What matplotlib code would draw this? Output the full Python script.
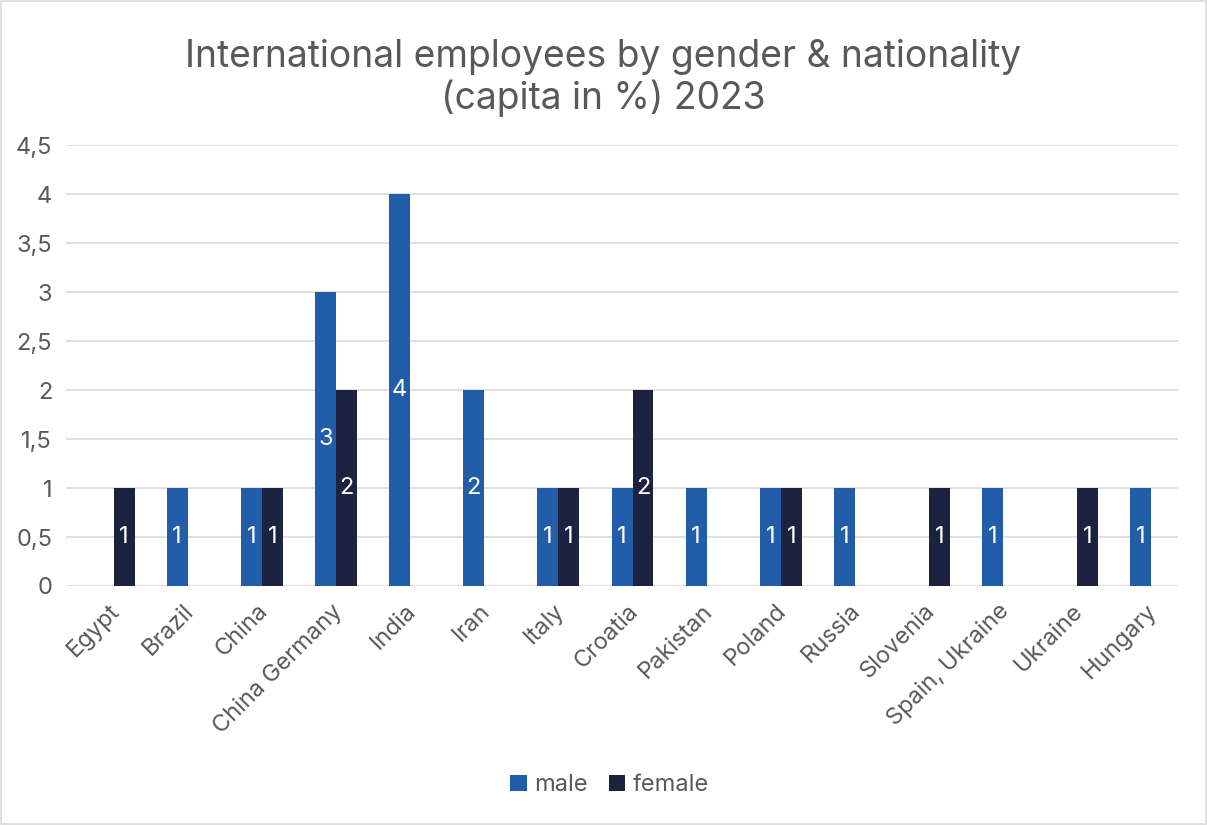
import matplotlib.pyplot as plt
import numpy as np

plt.rcParams['font.family'] = ['Inter', 'DejaVu Sans']

countries = ["Egypt", "Brazil", "China", "China Germany", "India", "Iran", "Italy",
             "Croatia", "Pakistan", "Poland", "Russia", "Slovenia", "Spain, Ukraine",
             "Ukraine", "Hungary"]
male = [None, 1, 1, 3, 4, 2, 1, 1, 1, 1, 1, None, 1, None, 1]
female = [1, None, 1, 2, None, None, 1, 2, None, 1, None, 1, None, 1, None]

male_color = "#215DA8"
female_color = "#1B2340"
text_color = "#595959"

fig = plt.figure(figsize=(12.07, 8.25), dpi=100)
ax = fig.add_axes([0.0547, 0.2897, 0.9213, 0.5345])

x = np.arange(len(countries))
w = 0.283

def draw(vals, offset, color, label):
    xs = [xi + offset for xi, v in zip(x, vals) if v is not None]
    ys = [v for v in vals if v is not None]
    bars = ax.bar(xs, ys, width=w, color=color, label=label, zorder=3)
    for b, v in zip(bars, ys):
        ax.text(b.get_x() + b.get_width() / 2, v / 2, str(v), ha='center', va='center',
                color='white', fontsize=17, zorder=4)

draw(male, 0, male_color, "male")
draw(female, w, female_color, "female")

ax.set_xlim(-0.5, len(countries) - 0.5)
ax.set_ylim(0, 4.5)
yt = np.arange(0, 4.51, 0.5)
ax.set_yticks(yt)
ax.set_yticklabels([("%g" % t).replace(".", ",") for t in yt], color=text_color, fontsize=17)
ax.set_xticks(x + 0.07)
ax.set_xticklabels(countries, rotation=45, ha='right', rotation_mode='anchor',
                   color=text_color, fontsize=17)
ax.tick_params(axis='y', length=0, pad=10)
ax.tick_params(axis='x', length=0, pad=10)
ax.grid(axis='y', color='#D9D9D9', linewidth=1.2, zorder=0)
for s in ax.spines.values():
    s.set_visible(False)

fig.text(0.5, 0.905, "International employees by gender & nationality\n(capita in %) 2023",
         ha='center', va='center', fontsize=26.8, color=text_color, linespacing=1.15)

fig.legend(loc='center', bbox_to_anchor=(0.505, 0.048), ncol=2, frameon=False,
           fontsize=17, handlelength=0.7, handleheight=0.7, handletextpad=0.3,
           columnspacing=0.9, labelcolor=text_color)

fig.patches.append(plt.Rectangle((0.001, 0.001), 0.998, 0.998, transform=fig.transFigure,
                                 fill=False, edgecolor='#D9D9D9', linewidth=1.2))

fig.savefig("out.png", dpi=100)
